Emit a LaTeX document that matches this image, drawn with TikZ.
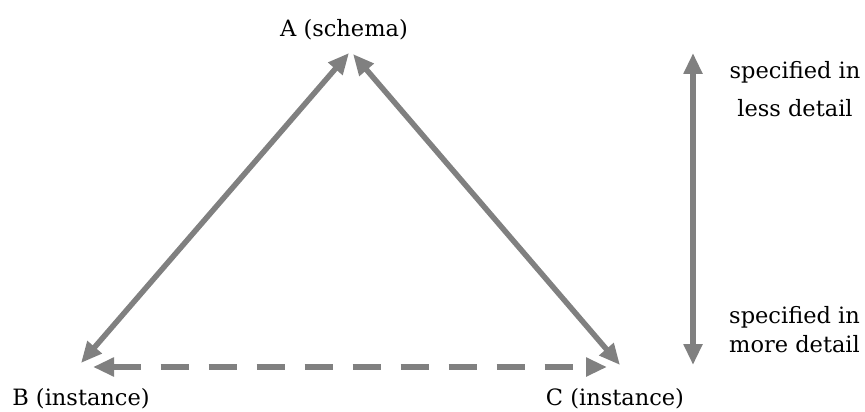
\documentclass[tikz,border=0pt]{standalone}
\usepackage{fontspec}
\setmainfont{DejaVu Serif}
\usetikzlibrary{arrows.meta}
\definecolor{arrowgray}{RGB}{128,128,128}
\tikzset{
  lbl/.style={inner sep=0pt, font=\fontsize{22.5}{29}\selectfont, text=black},
  conn/.style={draw=arrowgray, line width=5.5pt, {Triangle[length=21pt,width=18pt]}-{Triangle[length=21pt,width=18pt]}},
  dashconn/.style={conn, dash pattern=on 28pt off 20pt}
}
\begin{document}
\begin{tikzpicture}[x=1pt,y=-1pt]
\useasboundingbox (0,0) rectangle (865,412);
% labels
\node[lbl, anchor=base] (A) at (344,37) {A (schema)};
\node[lbl, anchor=base] (B) at (81,405) {B (instance)};
\node[lbl, anchor=base] (C) at (615,405) {C (instance)};
\node[lbl, anchor=base, align=center] (less) at (795,116) {specified in\\[8pt]less detail};
\node[lbl, anchor=base west, align=left] (more) at (729,352) {specified in\\more detail};
% arrow end points
\coordinate (aL) at (349,53);
\coordinate (aR) at (353,54);
\coordinate (bA) at (81,363);
\coordinate (bC) at (93,367);
\coordinate (cA) at (620,365);
\coordinate (cB) at (607,367);
\coordinate (vTop) at (693,53);
\coordinate (vBot) at (693,365);
% connectors
\draw[conn] (aL) -- (bA);
\draw[conn] (aR) -- (cA);
\draw[dashconn] (bC) -- (cB);
\draw[conn] (vTop) -- (vBot);
\end{tikzpicture}
\end{document}
